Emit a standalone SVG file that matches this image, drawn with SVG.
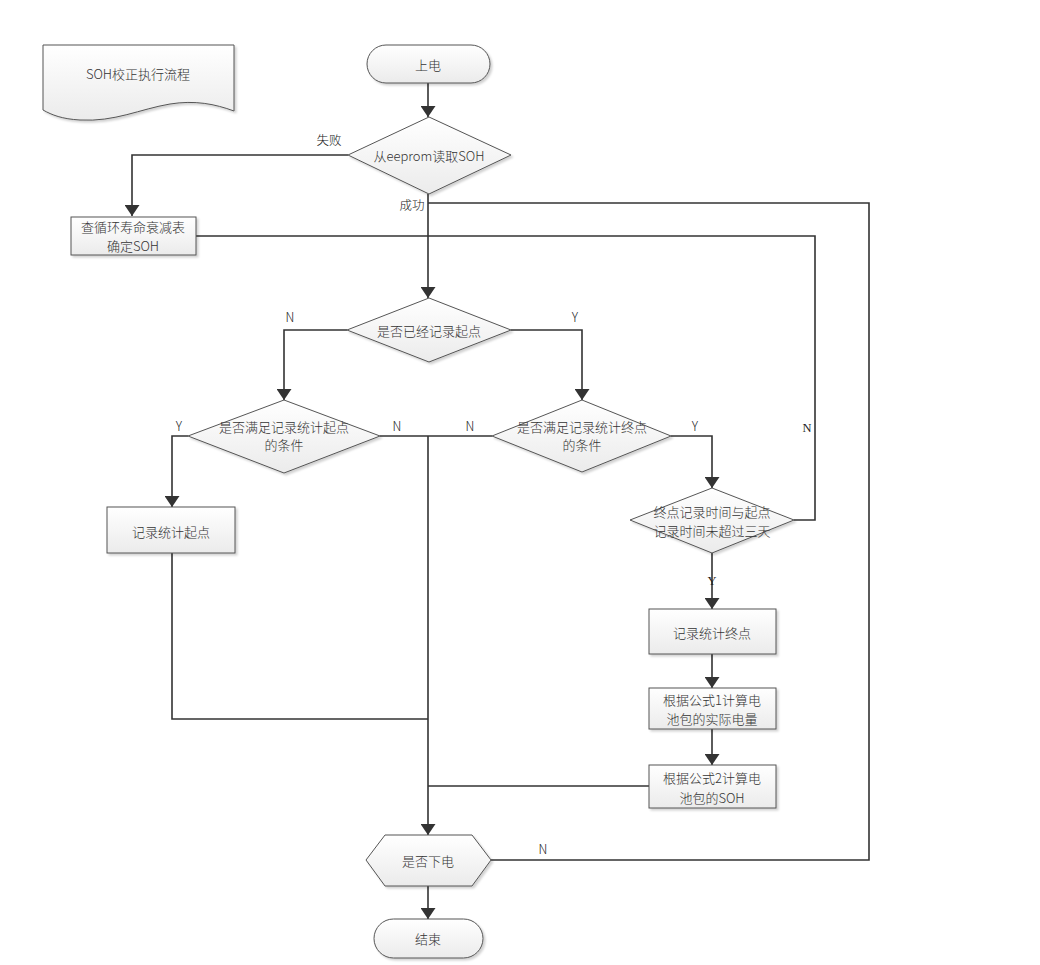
<svg xmlns="http://www.w3.org/2000/svg" width="1040" height="965" viewBox="0 0 1040 965">
<defs>
<linearGradient id="g" x1="0" y1="0" x2="0" y2="1"><stop offset="0" stop-color="#ffffff"/><stop offset="1" stop-color="#ebebeb"/></linearGradient>
<filter id="sh" x="-10%" y="-10%" width="130%" height="140%"><feDropShadow dx="2" dy="2" stdDeviation="1.2" flood-color="#000" flood-opacity="0.18"/></filter>
<marker id="ar" viewBox="0 0 11 15" refX="11" refY="7.5" markerWidth="11" markerHeight="15" markerUnits="userSpaceOnUse" orient="auto"><path d="M0,0 L11,7.5 L0,15 Z" fill="#333"/></marker>
</defs>
<style>
.s{fill:url(#g);stroke:#555;stroke-width:1;filter:url(#sh)}
.t{font-family:"Noto Sans CJK SC","Liberation Sans",sans-serif;font-size:13px;font-weight:300;fill:#333;text-anchor:middle;dominant-baseline:central}
.l{font-family:"Noto Sans CJK SC","Liberation Sans",sans-serif;font-size:12.5px;font-weight:300;fill:#222;text-anchor:middle;dominant-baseline:central}
.c{fill:none;stroke:#333;stroke-width:1.6}
.a{marker-end:url(#ar)}
</style>
<rect width="1040" height="965" fill="#fff"/>
<g id="connectors">
<path class="c a" d="M428,83 V117"/>
<path class="c a" d="M348,155 H132 V216"/>
<path class="c a" d="M428,194 V298"/>
<path class="c" d="M428,203 H869 V860 H491"/>
<path class="c" d="M196,236 H815 V520 H794"/>
<path class="c a" d="M347,330 H284 V400"/>
<path class="c a" d="M511,330 H582 V400"/>
<path class="c a" d="M188,436 H172 V507"/>
<path class="c" d="M380,436 H492"/>
<path class="c a" d="M428,436 V835"/>
<path class="c a" d="M671,436 H712 V488"/>
<path class="c a" d="M712,553 V609"/>
<path class="c a" d="M712,654 V688"/>
<path class="c a" d="M712,729 V765"/>
<path class="c" d="M649,786 H428"/>
<path class="c" d="M172,553 V719 H428"/>
<path class="c a" d="M428,886 V919"/>
</g>
<g id="labels">
<text class="l" x="329" y="139">失败</text>
<text class="l" x="412" y="204">成功</text>
<text class="l" x="290" y="316">N</text>
<text class="l" x="575" y="316">Y</text>
<text class="l" x="179" y="425">Y</text>
<text class="l" x="397" y="425">N</text>
<text class="l" x="470" y="425">N</text>
<text class="l" x="695" y="425">Y</text>
<text class="l" x="807" y="428" style="font-family:'Liberation Serif',serif">N</text>
<text class="l" x="712" y="581" style="font-family:'Liberation Serif',serif">Y</text>
<text class="l" x="543" y="848">N</text>
</g>
<g id="doc">
<path class="s" d="M43,45 H234 V111 C215,104 195,100 170,104 C140,109 115,122 80,120 C62,119 52,115 43,110 Z"/>
<text class="t" x="138" y="73">SOH校正执行流程</text>
</g>
<g id="start">
<rect class="s" x="367" y="45" width="123" height="38" rx="19"/>
<text class="t" x="428" y="64">上电</text>
</g>
<g id="read">
<path class="s" d="M429,117 L511,155 L429,194 L348,155 Z"/>
<text class="t" x="429" y="155">从eeprom读取SOH</text>
</g>
<g id="table">
<rect class="s" x="71" y="217" width="125" height="38"/>
<text class="t" x="133" y="226">查循环寿命衰减表</text>
<text class="t" x="133" y="245">确定SOH</text>
</g>
<g id="recorded">
<path class="s" d="M429,298 L511,330 L429,362 L347,330 Z"/>
<text class="t" x="429" y="330">是否已经记录起点</text>
</g>
<g id="startcond">
<path class="s" d="M284,400 L380,436 L284,473 L188,436 Z"/>
<text class="t" x="284" y="426">是否满足记录统计起点</text>
<text class="t" x="284" y="444">的条件</text>
</g>
<g id="endcond">
<path class="s" d="M582,400 L671,436 L582,472 L492,436 Z"/>
<text class="t" x="582" y="426">是否满足记录统计终点</text>
<text class="t" x="582" y="444">的条件</text>
</g>
<g id="threedays">
<path class="s" d="M712,488 L794,520 L712,553 L630,520 Z"/>
<text class="t" x="712" y="511">终点记录时间与起点</text>
<text class="t" x="712" y="530">记录时间未超过三天</text>
</g>
<g id="recstart">
<rect class="s" x="107" y="507" width="128" height="46"/>
<text class="t" x="171" y="531">记录统计起点</text>
</g>
<g id="recend">
<rect class="s" x="649" y="609" width="127" height="45"/>
<text class="t" x="712" y="632">记录统计终点</text>
</g>
<g id="calc1">
<rect class="s" x="649" y="688" width="127" height="41"/>
<text class="t" x="712" y="699">根据公式1计算电</text>
<text class="t" x="712" y="718">池包的实际电量</text>
</g>
<g id="calc2">
<rect class="s" x="649" y="765" width="127" height="43"/>
<text class="t" x="712" y="777">根据公式2计算电</text>
<text class="t" x="712" y="797">池包的SOH</text>
</g>
<g id="poweroff">
<path class="s" d="M385,835 H472 L491,860 L472,886 H385 L366,860 Z"/>
<text class="t" x="428" y="860">是否下电</text>
</g>
<g id="end">
<rect class="s" x="374" y="919" width="109" height="39" rx="19.5"/>
<text class="t" x="428" y="938">结束</text>
</g>
</svg>
